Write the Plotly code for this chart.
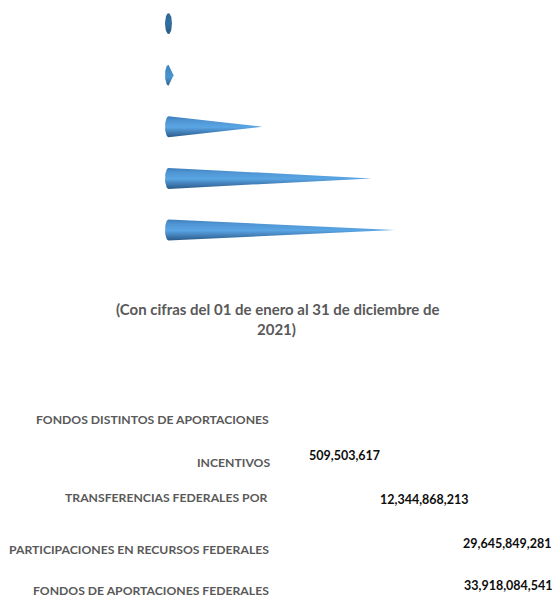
import numpy as np
import plotly.graph_objects as go

categories = ["FONDOS DE APORTACIONES FEDERALES", "PARTICIPACIONES EN RECURSOS FEDERALES",
              "TRANSFERENCIAS FEDERALES POR", "INCENTIVOS", "FONDOS DISTINTOS DE APORTACIONES"]
value_labels = ["33,918,084,541", "29,645,849,281", "12,344,868,213", "509,503,617", ""]
# cone lengths (3D perspective stretches them), pesos
cone_lengths = [33.918e9, 30.47e9, 14.1e9, 0.76e9, 0.45e9]

W, H = 557, 598
X0_PX, Y0_PX, ROW_PX = 168.5, 230.0, 51.6
PESOS_PER_PX = 33.918e9 / 226
BASE_H, BASE_W = 10.5 / ROW_PX, 3.5 * PESOS_PER_PX

GRAD = [[0, "#2b5a88"], [0.2, "#3f79b0"], [0.48, "#5aa5e4"], [0.8, "#4f94d2"], [1, "#3c7cba"]]
GRAD_DARK = [[0, "#2c5a85"], [0.5, "#33709f"], [1, "#2f6696"]]
GRAD_MID = [[0, "#2f618f"], [0.4, "#4a94d2"], [1, "#3f82c0"]]

fig = go.Figure()
for i, (name, length) in enumerate(zip(categories, cone_lengths)):
    if length <= BASE_W:
        t = np.linspace(0, 2 * np.pi, 60)
        xs = BASE_W * np.cos(t)
        ys = i + BASE_H * np.sin(t)
    else:
        t = np.linspace(np.pi / 2, 3 * np.pi / 2, 30)
        xs = np.concatenate([BASE_W * np.cos(t), [length, 0]])
        ys = np.concatenate([i + BASE_H * np.sin(t), [i, i + BASE_H]])
    scale = GRAD_DARK if i == 4 else GRAD_MID if i == 3 else GRAD
    fig.add_trace(go.Scatter(
        x=xs, y=ys, name=name, mode="lines", line=dict(width=0, color="rgba(0,0,0,0)"),
        fill="toself", fillcolor="#4f94d2",
        fillgradient=dict(type="vertical", colorscale=scale, start=i - BASE_H, stop=i + BASE_H),
        hoverinfo="skip", showlegend=False))


def note(text, px, py, anchor, color, size):
    fig.add_annotation(text=text, xref="paper", yref="paper", x=px / W, y=1 - py / H,
                       xanchor=anchor, yanchor="middle", showarrow=False,
                       font=dict(family="Lato", size=size, color=color, weight="bold"))


TITLE_GREY = "#595959"
note("(Con cifras del 01 de enero al 31 de diciembre de", 278, 309, "center", TITLE_GREY, 15)
note("2021)", 276, 329, "center", TITLE_GREY, 15)

label_pos = [(271, 590), (271, 549), (269, 497), (272, 462), (271, 419)]
value_pos = [(555, 585), (554, 543), (471, 499), (382, 455)]
for name, (px, py) in zip(categories, label_pos):
    note(name, px, py, "right", TITLE_GREY, 12.2)
for lab, (px, py) in zip(value_labels, value_pos):
    note(lab, px, py, "right", "#0d0d0d", 12.5)

fig.update_layout(
    width=W, height=H, margin=dict(l=0, r=0, t=0, b=0),
    paper_bgcolor="white", plot_bgcolor="white",
    xaxis=dict(visible=False, range=[-X0_PX * PESOS_PER_PX, (W - X0_PX) * PESOS_PER_PX]),
    yaxis=dict(visible=False, range=[-(H - Y0_PX) / ROW_PX, Y0_PX / ROW_PX]),
)
fig.write_html("out.html", config={"displayModeBar": False},
               post_script="document.body.style.margin='0';document.documentElement.style.overflow='hidden';")
